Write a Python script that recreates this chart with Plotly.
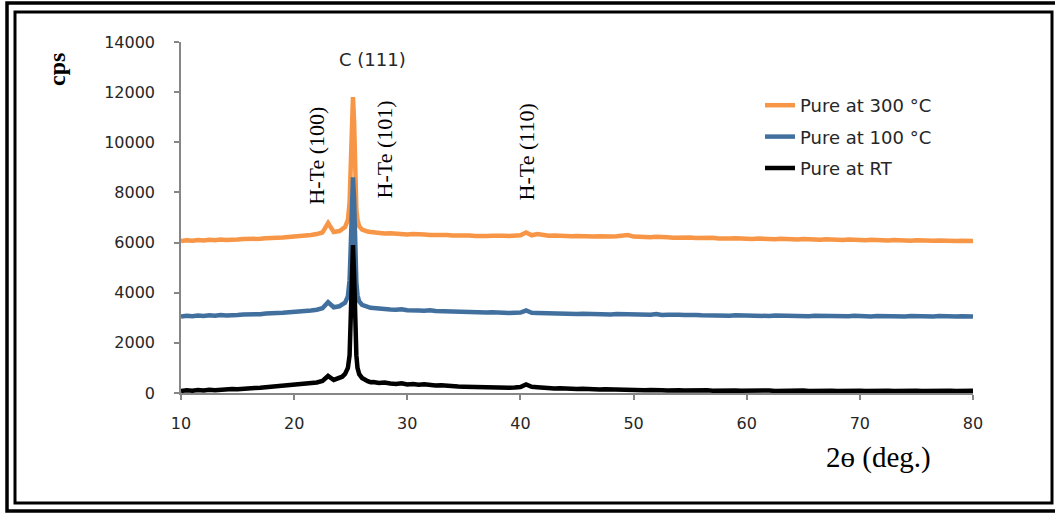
import plotly.graph_objects as go

# 2-theta scan positions (deg.)
two_theta = [
    10.0, 10.5, 11.0, 11.5, 12.0, 12.5, 13.0, 13.5, 14.0, 14.5,
    15.0, 15.5, 16.0, 16.5, 17.0, 17.5, 18.0, 18.5, 19.0, 19.5,
    20.0, 20.5, 21.0, 21.5, 22.0, 22.5, 23.0, 23.5, 24.0,
    24.25, 24.5, 24.75, 24.9, 25.0, 25.1, 25.2, 25.3, 25.4, 25.5,
    25.6, 25.75, 26.0, 26.25, 26.5, 26.75, 27.0,
    27.5, 28.0, 28.5, 29.0, 29.5, 30.0, 30.5, 31.0, 31.5, 32.0,
    32.5, 33.0, 33.5, 34.0, 34.5, 35.0, 35.5, 36.0, 36.5, 37.0,
    37.5, 38.0, 38.5, 39.0, 39.5, 40.0, 40.5, 41.0, 41.5, 42.0,
    42.5, 43.0, 43.5, 44.0, 44.5, 45.0, 45.5, 46.0, 46.5, 47.0,
    47.5, 48.0, 48.5, 49.0, 49.5, 50.0, 50.5, 51.0, 51.5, 52.0,
    52.5, 53.0, 53.5, 54.0, 54.5, 55.0, 55.5, 56.0, 56.5, 57.0,
    57.5, 58.0, 58.5, 59.0, 59.5, 60.0, 60.5, 61.0, 61.5, 62.0,
    62.5, 63.0, 63.5, 64.0, 64.5, 65.0, 65.5, 66.0, 66.5, 67.0,
    67.5, 68.0, 68.5, 69.0, 69.5, 70.0, 70.5, 71.0, 71.5, 72.0,
    72.5, 73.0, 73.5, 74.0, 74.5, 75.0, 75.5, 76.0, 76.5, 77.0,
    77.5, 78.0, 78.5, 79.0, 79.5, 80.0,
]

# intensities (cps)
cps_rt = [
    80, 110, 90, 120, 100, 130, 110, 140, 130, 160,
    150, 180, 170, 200, 210, 230, 250, 270, 260, 300,
    310, 330, 360, 380, 420, 480, 680, 520, 580,
    650, 760, 1000, 1500, 2700, 4600, 5900, 4700, 2600, 1500,
    1000, 750, 600, 520, 470, 430, 440,
    400, 420, 380, 360, 390, 340, 360, 330, 350, 320,
    300, 310, 280, 270, 260, 250, 240, 230, 240, 220,
    210, 220, 200, 210, 220, 240, 340, 250, 230, 200,
    190, 180, 190, 170, 180, 160, 170, 150, 160, 140,
    150, 140, 130, 150, 130, 120, 130, 110, 120, 130,
    110, 100, 120, 110, 100, 110, 90, 100, 110, 90,
    100, 90, 110, 100, 90, 100, 90, 110, 90, 100,
    80, 90, 100, 80, 90, 100, 80, 90, 80, 100,
    90, 80, 90, 100, 80, 90, 80, 90, 100, 80,
    90, 80, 90, 80, 100, 90, 80, 90, 80, 90,
    80, 90, 80, 90, 80, 90,
]

cps_100 = [
    3050, 3080, 3060, 3090, 3070, 3100, 3080, 3110, 3090, 3120,
    3110, 3130, 3120, 3150, 3140, 3170, 3160, 3190, 3200, 3210,
    3230, 3240, 3270, 3290, 3320, 3380, 3620, 3420, 3460,
    3520, 3600, 3850, 4500, 5800, 7600, 8600, 7700, 5600, 4400,
    3900, 3650, 3520, 3470, 3420, 3400, 3390,
    3360, 3350, 3330, 3320, 3340, 3300, 3310, 3290, 3280, 3300,
    3270, 3260, 3250, 3260, 3240, 3230, 3250, 3220, 3230, 3210,
    3220, 3200, 3210, 3190, 3200, 3210, 3290, 3200, 3190, 3180,
    3190, 3170, 3180, 3160, 3170, 3150, 3160, 3150, 3140, 3160,
    3140, 3130, 3150, 3140, 3170, 3130, 3120, 3140, 3120, 3150,
    3110, 3120, 3100, 3120, 3110, 3090, 3110, 3100, 3090, 3110,
    3090, 3100, 3080, 3100, 3090, 3080, 3100, 3080, 3090, 3070,
    3090, 3080, 3070, 3090, 3070, 3080, 3060, 3080, 3070, 3060,
    3080, 3060, 3070, 3060, 3080, 3060, 3070, 3050, 3070, 3060,
    3050, 3070, 3060, 3050, 3070, 3060, 3050, 3060, 3050, 3070,
    3050, 3060, 3050, 3060, 3050, 3050,
]

cps_300 = [
    6060, 6090, 6070, 6100, 6080, 6110, 6090, 6120, 6100, 6130,
    6120, 6140, 6130, 6160, 6150, 6170, 6170, 6190, 6200, 6220,
    6230, 6250, 6270, 6300, 6340, 6400, 6780, 6420, 6460,
    6520, 6620, 6900, 7600, 9000, 10900, 11800, 10800, 8600, 7300,
    6900, 6650, 6520, 6470, 6440, 6420, 6400,
    6380, 6360, 6370, 6340, 6350, 6320, 6340, 6310, 6320, 6300,
    6310, 6290, 6300, 6280, 6290, 6270, 6280, 6260, 6280, 6260,
    6270, 6250, 6270, 6260, 6270, 6290, 6400, 6290, 6340, 6290,
    6270, 6280, 6260, 6270, 6250, 6260, 6240, 6260, 6240, 6250,
    6230, 6240, 6250, 6260, 6300, 6240, 6220, 6230, 6210, 6230,
    6200, 6210, 6190, 6200, 6180, 6200, 6180, 6190, 6170, 6190,
    6160, 6180, 6160, 6170, 6150, 6160, 6140, 6160, 6140, 6150,
    6130, 6150, 6130, 6140, 6120, 6140, 6120, 6130, 6110, 6130,
    6110, 6120, 6100, 6120, 6100, 6110, 6090, 6110, 6090, 6100,
    6080, 6100, 6080, 6090, 6070, 6090, 6070, 6080, 6070, 6080,
    6060, 6080, 6060, 6070, 6060, 6060,
]

series_names = ["Pure at 300 °C", "Pure at 100 °C", "Pure at RT"]
series_colors = ["#F79646", "#41709F", "#000000"]

# peak labels and the (2-theta, cps) position of each label centre
peak_labels = ["C (111)", "H-Te (100)", "H-Te (101)", "H-Te (110)"]
peak_label_x = [26.9, 21.9, 28.0, 40.5]
peak_label_y = [13300, 9450, 9700, 9600]

W, H = 1055, 514
L, R, T, B = 181, 82, 42, 121
PW, PH = W - L - R, H - T - B


def px(x):
    return (x - L) / PW


def py(y):
    return (H - B - y) / PH


fig = go.Figure()
for name, color, vals in zip(series_names, series_colors, [cps_300, cps_100, cps_rt]):
    fig.add_trace(go.Scatter(
        x=two_theta, y=vals, mode="lines", name=name, legendgroup=name,
        line=dict(color=color, width=4.5),
    ))

axis_color = "#868686"
tick_font = dict(family="DejaVu Sans, Verdana, sans-serif", size=16, color="#262626")

fig.update_xaxes(
    range=[10, 80], tickmode="array", tickvals=[10, 20, 30, 40, 50, 60, 70, 80],
    showgrid=False, zeroline=False, showline=True, linecolor=axis_color, linewidth=1.5,
    ticks="outside", ticklen=5, tickcolor=axis_color, tickwidth=1.5,
    tickfont=tick_font, ticklabelstandoff=10,
)
fig.update_yaxes(
    range=[0, 14000], tickmode="array", tickvals=list(range(0, 14001, 2000)),
    tickformat="d",
    showgrid=False, zeroline=False, showline=True, linecolor=axis_color, linewidth=1.5,
    ticks="outside", ticklen=5, tickcolor=axis_color, tickwidth=1.5,
    tickfont=tick_font, ticklabelstandoff=16,
)

# peak annotations
fig.add_annotation(x=peak_label_x[0], y=peak_label_y[0], xref="x", yref="y",
                   text=peak_labels[0], showarrow=False,
                   font=dict(family="DejaVu Sans, sans-serif", size=18, color="#262626"))
for i in range(1, 4):
    fig.add_annotation(x=peak_label_x[i], y=peak_label_y[i], xref="x", yref="y",
                       text=peak_labels[i], showarrow=False, textangle=-90,
                       font=dict(family="Liberation Serif, Times New Roman, serif",
                                 size=22, color="#000000"))

# axis titles
fig.add_annotation(x=px(57), y=py(70), xref="paper", yref="paper", text="<b>cps</b>",
                   showarrow=False, textangle=-90, xanchor="center", yanchor="middle",
                   font=dict(family="Liberation Serif, serif", size=24, color="#000000"))
fig.add_annotation(x=px(878), y=py(457), xref="paper", yref="paper", text="2ɵ (deg.)",
                   showarrow=False, xanchor="center", yanchor="middle",
                   font=dict(family="Liberation Serif, DejaVu Serif, serif", size=29,
                             color="#000000"))

# double frame around the figure
fig.add_shape(type="rect", xref="paper", yref="paper",
              x0=px(7), x1=px(1062), y0=py(511), y1=py(3),
              line=dict(color="#000000", width=3.5), layer="below")
fig.add_shape(type="rect", xref="paper", yref="paper",
              x0=px(15), x1=px(1052), y0=py(503), y1=py(12),
              line=dict(color="#000000", width=3), layer="below")

fig.update_layout(
    width=W, height=H,
    margin=dict(l=L, r=R, t=T, b=B),
    paper_bgcolor="#ffffff", plot_bgcolor="#ffffff",
    showlegend=True,
    legend=dict(x=px(760), y=py(87), xanchor="left", yanchor="top",
                traceorder="grouped", tracegroupgap=5,
                font=dict(family="DejaVu Sans, Verdana, sans-serif", size=18, color="#262626"),
                bgcolor="rgba(0,0,0,0)"),
)

fig.write_html("out.html")
